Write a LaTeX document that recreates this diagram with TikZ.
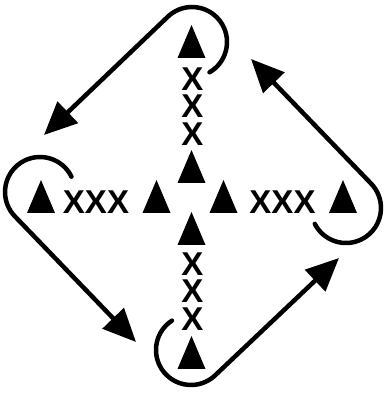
\documentclass[tikz,border=0pt]{standalone}
\usepackage{fontspec}
\usetikzlibrary{arrows.meta}
\newfontfamily\markfont{Liberation Sans}

\begin{document}
\begin{tikzpicture}[x=1pt, y=1pt,
  pics/tri/.style={code={\fill (-14,-16.5) -- (14,-16.5) -- (0,16.5) -- cycle;}},
  xlab/.style={font=\markfont\bfseries\fontsize{33}{33}\selectfont, inner sep=0pt},
  hook/.style={line width=4.5pt, line cap=round, -{Triangle[length=33pt, width=29pt]}}]
\useasboundingbox (0,0) rectangle (386,394);

% outer triangles
\coordinate (top) at (191.5,352.5);
\coordinate (left) at (41,197.5);
\coordinate (right) at (343,197.5);
\coordinate (bot) at (191.5,41.5);
% inner triangles
\coordinate (topin) at (191.5,227.5);
\coordinate (leftin) at (156.5,197.5);
\coordinate (rightin) at (223.5,197.5);
\coordinate (botin) at (191.5,165.5);
\foreach \t in {top,left,right,bot,topin,leftin,rightin,botin}
  \pic at (\t) {tri};

% the x rows
\node[xlab] (xt1) at (192.5,315) {X};
\node[xlab] (xt2) at (192.5,287.5) {X};
\node[xlab] (xt3) at (192.5,260) {X};
\node[xlab] (xb1) at (192.5,130) {X};
\node[xlab] (xb2) at (192.5,102.5) {X};
\node[xlab] (xb3) at (192.5,74.5) {X};
\node[xlab] (xl) at (96,191.5) {XXX};
\node[xlab] (xr) at (282.5,191.5) {XXX};

% hook centres and arrow tips
\coordinate (hookT) at (192,352);
\coordinate (hookL) at (40,202);
\coordinate (hookB) at (191,44);
\coordinate (hookR) at (346,186);
\coordinate (tipL) at (44,259);
\coordinate (tipB) at (136,52);
\coordinate (tipR) at (339,136);
\coordinate (tipT) at (251,335);

% arrows
\draw[hook] (hookT) ++(-60:35) arc[start angle=-60, end angle=135, radius=35] -- (tipL);
\draw[hook] (hookL) ++(26:35) arc[start angle=26, end angle=225, radius=35] -- (tipB);
\draw[hook] (hookB) ++(123:35) arc[start angle=123, end angle=315, radius=35] -- (tipR);
\draw[hook] (hookR) ++(207:35) arc[start angle=207, end angle=405, radius=35] -- (tipT);
\end{tikzpicture}
\end{document}
